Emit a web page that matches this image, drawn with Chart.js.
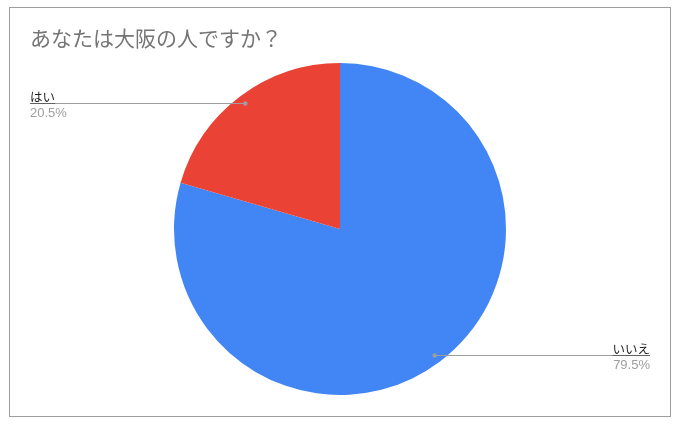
<!DOCTYPE html>
<html>
<head>
<meta charset="utf-8">
<script src="https://cdn.jsdelivr.net/npm/chart.js@4"></script>
<style>
  body { margin: 0; background: #fff; }
  #wrap { position: relative; width: 679px; height: 426px; }
</style>
</head>
<body>
<div id="wrap"><canvas id="pieChart" width="679" height="426"></canvas></div>
<script>
const chartTitle = 'あなたは大阪の人ですか？';
const answers = ['いいえ', 'はい'];
const shares = [79.5, 20.5];
const sliceColors = ['#4285F4', '#EA4335'];

const JP_FONT = '"Noto Sans CJK JP", "Noto Sans", Roboto, sans-serif';

// frame, title and leader-line labels
const decorPlugin = {
    id: 'decor',
    beforeDraw(chart) {
        const ctx = chart.ctx;
        ctx.save();
        ctx.fillStyle = '#fff';
        ctx.fillRect(0, 0, chart.width, chart.height);
        ctx.strokeStyle = '#9e9e9e';
        ctx.lineWidth = 1;
        ctx.strokeRect(9.5, 7.5, 661, 409);
        ctx.restore();
    },
    afterDraw(chart) {
        const ctx = chart.ctx;
        ctx.save();
        ctx.fillStyle = '#757575';
        ctx.font = '21px ' + JP_FONT;
        ctx.textBaseline = 'alphabetic';
        ctx.textAlign = 'left';
        ctx.fillText(chartTitle, 30, 46);

        const meta = chart.getDatasetMeta(0);
        meta.data.forEach((arc, i) => {
            const mid = (arc.startAngle + arc.endAngle) / 2;
            const r = arc.outerRadius * 0.95;
            const ax = arc.x + Math.cos(mid) * r;
            const ay = Math.round(arc.y + Math.sin(mid) * r) + 0.5;
            const left = ax < arc.x;
            const ex = left ? 30 : 650;

            ctx.strokeStyle = '#9e9e9e';
            ctx.lineWidth = 1;
            ctx.beginPath();
            ctx.moveTo(ex, ay);
            ctx.lineTo(ax, ay);
            ctx.stroke();

            ctx.fillStyle = '#9e9e9e';
            ctx.beginPath();
            ctx.arc(ax, ay, 2.2, 0, Math.PI * 2);
            ctx.fill();

            ctx.textAlign = left ? 'left' : 'right';
            ctx.font = '12.5px ' + JP_FONT;
            ctx.fillStyle = '#222';
            ctx.textBaseline = 'alphabetic';
            ctx.fillText(answers[i], ex, ay - 2);
            const w = ctx.measureText(answers[i]).width;
            ctx.strokeStyle = '#616161';
            ctx.beginPath();
            ctx.moveTo(left ? ex : ex - w, ay);
            ctx.lineTo(left ? ex + w : ex, ay);
            ctx.stroke();

            ctx.font = '13px "Liberation Sans", Arial, sans-serif';
            ctx.fillStyle = '#9e9e9e';
            ctx.textBaseline = 'top';
            ctx.fillText(shares[i].toFixed(1) + '%', ex, ay + 3);
        });
        ctx.restore();
    }
};

document.addEventListener('DOMContentLoaded', () => {
    const ctx = document.getElementById('pieChart').getContext('2d');
    new Chart(ctx, {
        type: 'pie',
        data: {
            labels: answers,
            datasets: [{
                data: shares,
                backgroundColor: sliceColors,
                borderWidth: 0
            }]
        },
        options: {
            responsive: false,
            animation: false,
            layout: {
                padding: { top: 63, bottom: 31, left: 174, right: 173 }
            },
            plugins: {
                legend: { display: false },
                tooltip: { enabled: false },
                title: { display: false }
            }
        },
        plugins: [decorPlugin]
    });
});
</script>
</body>
</html>
